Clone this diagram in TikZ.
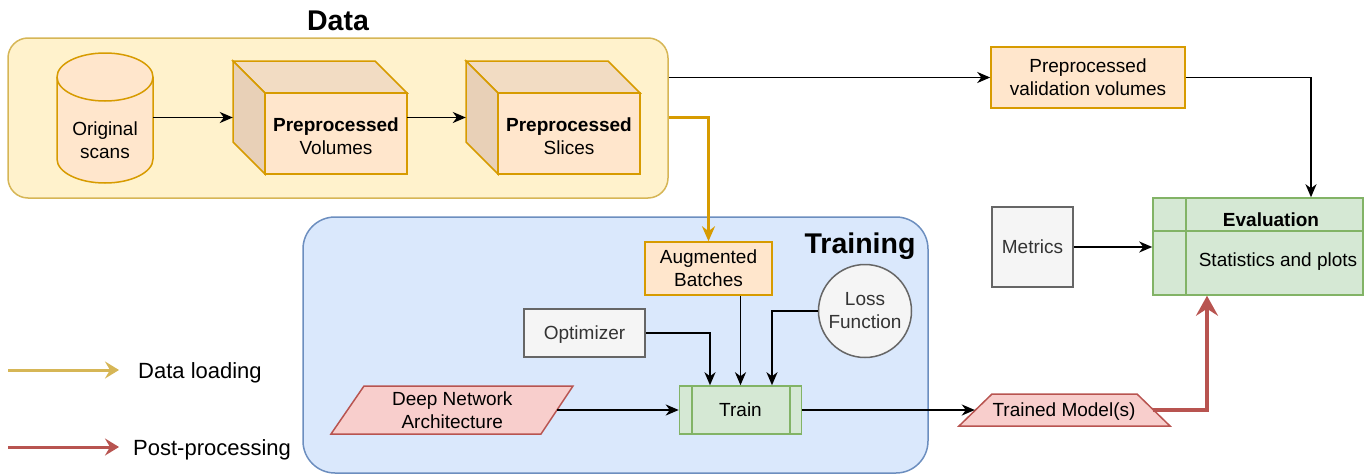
\documentclass[tikz,border=0pt]{standalone}
\usepackage{fontspec}
\setmainfont{Liberation Sans}
\usetikzlibrary{arrows.meta}

\definecolor{dataFill}{HTML}{FFF2CC}
\definecolor{dataLine}{HTML}{D6B656}
\definecolor{orFill}{HTML}{FFE6CC}
\definecolor{orLine}{HTML}{D79B00}
\definecolor{orTop}{HTML}{F2DCC3}
\definecolor{orSide}{HTML}{E8D0B7}
\definecolor{blFill}{HTML}{DAE8FC}
\definecolor{blLine}{HTML}{6C8EBF}
\definecolor{grFill}{HTML}{F5F5F5}
\definecolor{grLine}{HTML}{666666}
\definecolor{grText}{HTML}{333333}
\definecolor{gnFill}{HTML}{D5E8D4}
\definecolor{gnLine}{HTML}{82B366}
\definecolor{rdFill}{HTML}{F8CECC}
\definecolor{rdLine}{HTML}{B85450}

\tikzset{
  txt/.style={font=\fontsize{19}{23}\selectfont, align=center, inner sep=0pt},
  oneline/.style={text height=13.6pt, text depth=0pt},
  title/.style={font=\fontsize{28.5}{32}\selectfont\bfseries, inner sep=0pt},
  legendtxt/.style={font=\fontsize{22}{26}\selectfont, inner sep=0pt, anchor=west},
  box/.style={txt, rectangle, line width=1.5pt, minimum width=#1},
  orbox/.style={box=#1, draw=orLine, fill=orFill},
  grbox/.style={box=#1, draw=grLine, fill=grFill, text=grText},
  ghost/.style={txt, rectangle, minimum width=#1},
  flow/.style={line width=1.8pt, -{Stealth[length=13pt, width=11pt, inset=4pt]}},
  loadflow/.style={line width=2.6pt, orLine, -{Stealth[length=15pt, width=13pt, inset=5pt]}},
  postflow/.style={line width=4pt, rdLine, -{Stealth[length=20pt, width=22pt, inset=7pt]}},
  legload/.style={line width=3pt, dataLine, -{Stealth[length=14pt, width=17pt, inset=5pt]}},
  legpost/.style={line width=3pt, rdLine, -{Stealth[length=14pt, width=17pt, inset=5pt]}},
}

\begin{document}
\begin{tikzpicture}[x=1pt, y=-1pt]
\useasboundingbox (0,0) rectangle (1369,474);

% ---------- group containers ----------
\node[draw=dataLine, fill=dataFill, line width=1.5pt, rounded corners=20pt,
      minimum width=660pt, minimum height=160pt, inner sep=0pt] (datagrp) at (338,118) {};
\node[title] (datatitle) at (338,21) {Data};

\node[draw=blLine, fill=blFill, line width=1.5pt, rounded corners=32pt,
      minimum width=625pt, minimum height=256pt, inner sep=0pt] (traingrp) at (615.5,345) {};
\node[title] (traintitle) at (860,246) {Training};

% ---------- original scans (cylinder) ----------
\node[ghost=96pt, minimum height=130pt] (cyl) at (105,118) {};
\draw[line width=1.5pt, draw=orLine, fill=orFill]
  (57,77) -- (57,159) arc[start angle=180, end angle=360, x radius=48pt, y radius=24pt]
  -- (153,77) arc[start angle=0, end angle=180, x radius=48pt, y radius=24pt] -- cycle;
\draw[line width=1.5pt, draw=orLine]
  (57,77) arc[start angle=180, end angle=360, x radius=48pt, y radius=24pt];
\node[txt] (cyltxt) at (105,140.5) {Original\\scans};

% ---------- preprocessed volumes (cube) ----------
\node[ghost=174pt, minimum height=113pt] (cube1) at (320,117.5) {};
\draw[line width=1.5pt, draw=orLine, fill=orTop] (233,61) -- (375,61) -- (407,93) -- (265,93) -- cycle;
\draw[line width=1.5pt, draw=orLine, fill=orSide] (233,61) -- (265,93) -- (265,174) -- (233,142) -- cycle;
\draw[line width=1.5pt, draw=orLine, fill=orFill] (265,93) rectangle (407,174);
\node[txt] (cube1txt) at (336,136) {\textbf{Preprocessed}\\Volumes};

% ---------- preprocessed slices (cube) ----------
\node[ghost=174pt, minimum height=113pt] (cube2) at (553,117.5) {};
\draw[line width=1.5pt, draw=orLine, fill=orTop] (466,61) -- (608,61) -- (640,93) -- (498,93) -- cycle;
\draw[line width=1.5pt, draw=orLine, fill=orSide] (466,61) -- (498,93) -- (498,174) -- (466,142) -- cycle;
\draw[line width=1.5pt, draw=orLine, fill=orFill] (498,93) rectangle (640,174);
\node[txt] (cube2txt) at (569,136) {\textbf{Preprocessed}\\Slices};

% ---------- validation / evaluation side ----------
\node[orbox=194pt, minimum height=61pt] (val) at (1088,77.5) {Preprocessed\\validation volumes};

\node[rectangle, draw=gnLine, fill=gnFill, line width=1.5pt, inner sep=0pt,
      minimum width=210pt, minimum height=97pt] (eval) at (1258,246.5) {};
\draw[line width=1.5pt, draw=gnLine] (1186,198) -- (1186,295);
\draw[line width=1.5pt, draw=gnLine] (1153,231) -- (1363,231);
\node[txt, oneline, font=\fontsize{19}{23}\selectfont\bfseries] (evalhead) at (1271,220) {Evaluation};
\node[txt, oneline] (evalbody) at (1278,260) {Statistics and plots};

\node[grbox=81pt, minimum height=80pt, oneline] (met) at (1032.5,247) {Metrics};

% ---------- training ----------
\node[orbox=127pt, minimum height=53pt] (aug) at (708.5,268.5) {Augmented\\Batches};
\node[grbox=121pt, minimum height=48pt, oneline] (opt) at (584.5,333) {Optimizer};
\node[circle, draw=grLine, fill=grFill, text=grText, line width=1.5pt, txt,
      minimum size=93pt] (loss) at (865,311) {Loss\\Function};

\node[rectangle, draw=gnLine, fill=gnFill, line width=1.5pt, txt, oneline,
      minimum width=122pt, minimum height=48pt] (train) at (740.5,410) {Train};
\draw[line width=1.5pt, draw=gnLine] (692,386) -- (692,434);
\draw[line width=1.5pt, draw=gnLine] (790,386) -- (790,434);

% deep network architecture (parallelogram)
\draw[line width=1.5pt, draw=rdLine, fill=rdFill] (364,386) -- (573,386) -- (541,434) -- (331,434) -- cycle;
\node[ghost=209.5pt, minimum height=48pt] (dna) at (452.25,410) {Deep Network\\Architecture};

% trained model(s) (trapezium)
\draw[line width=1.5pt, draw=rdLine, fill=rdFill] (992,394) -- (1137,394) -- (1170,426) -- (959,426) -- cycle;
\node[ghost=178pt, minimum height=32pt, oneline] (tm) at (1064,410) {Trained Model(s)};

% ---------- connectors ----------
\draw[flow] (cyl.east |- cube1.west) -- (cube1.west);
\draw[flow] (cube1.east) -- (cube2.west);
\draw[flow] (datagrp.east |- val.west) -- (val.west);
\draw[loadflow] (datagrp.east |- cube2.east) -| (aug.north);
\draw[flow] (val.east) -| ([xshift=53pt]eval.north);
\draw[flow] (met.east) -- (met.east -| eval.west);

\draw[flow] (opt.east) -| ([xshift=-30.5pt]train.north);
\draw[flow] (aug.south -| train.north) -- (train.north);
\draw[flow] (loss.west) -| ([xshift=31.5pt]train.north);
\draw[flow] (dna.east) -- (train.west);
\draw[flow] (train.east) -- (tm.west);
\draw[postflow] (tm.east) -| ([xshift=-51pt]eval.south);

% ---------- legend ----------
\coordinate (l1a) at (8,370);
\coordinate (l1b) at (119,370);
\coordinate (l2a) at (8,447);
\coordinate (l2b) at (119,447);
\draw[legload] (l1a) -- (l1b);
\draw[legpost] (l2a) -- (l2b);
\node[legendtxt] (l1t) at (138,373) {Data loading};
\node[legendtxt] (l2t) at (133,450) {Post-processing};

\end{tikzpicture}
\end{document}
